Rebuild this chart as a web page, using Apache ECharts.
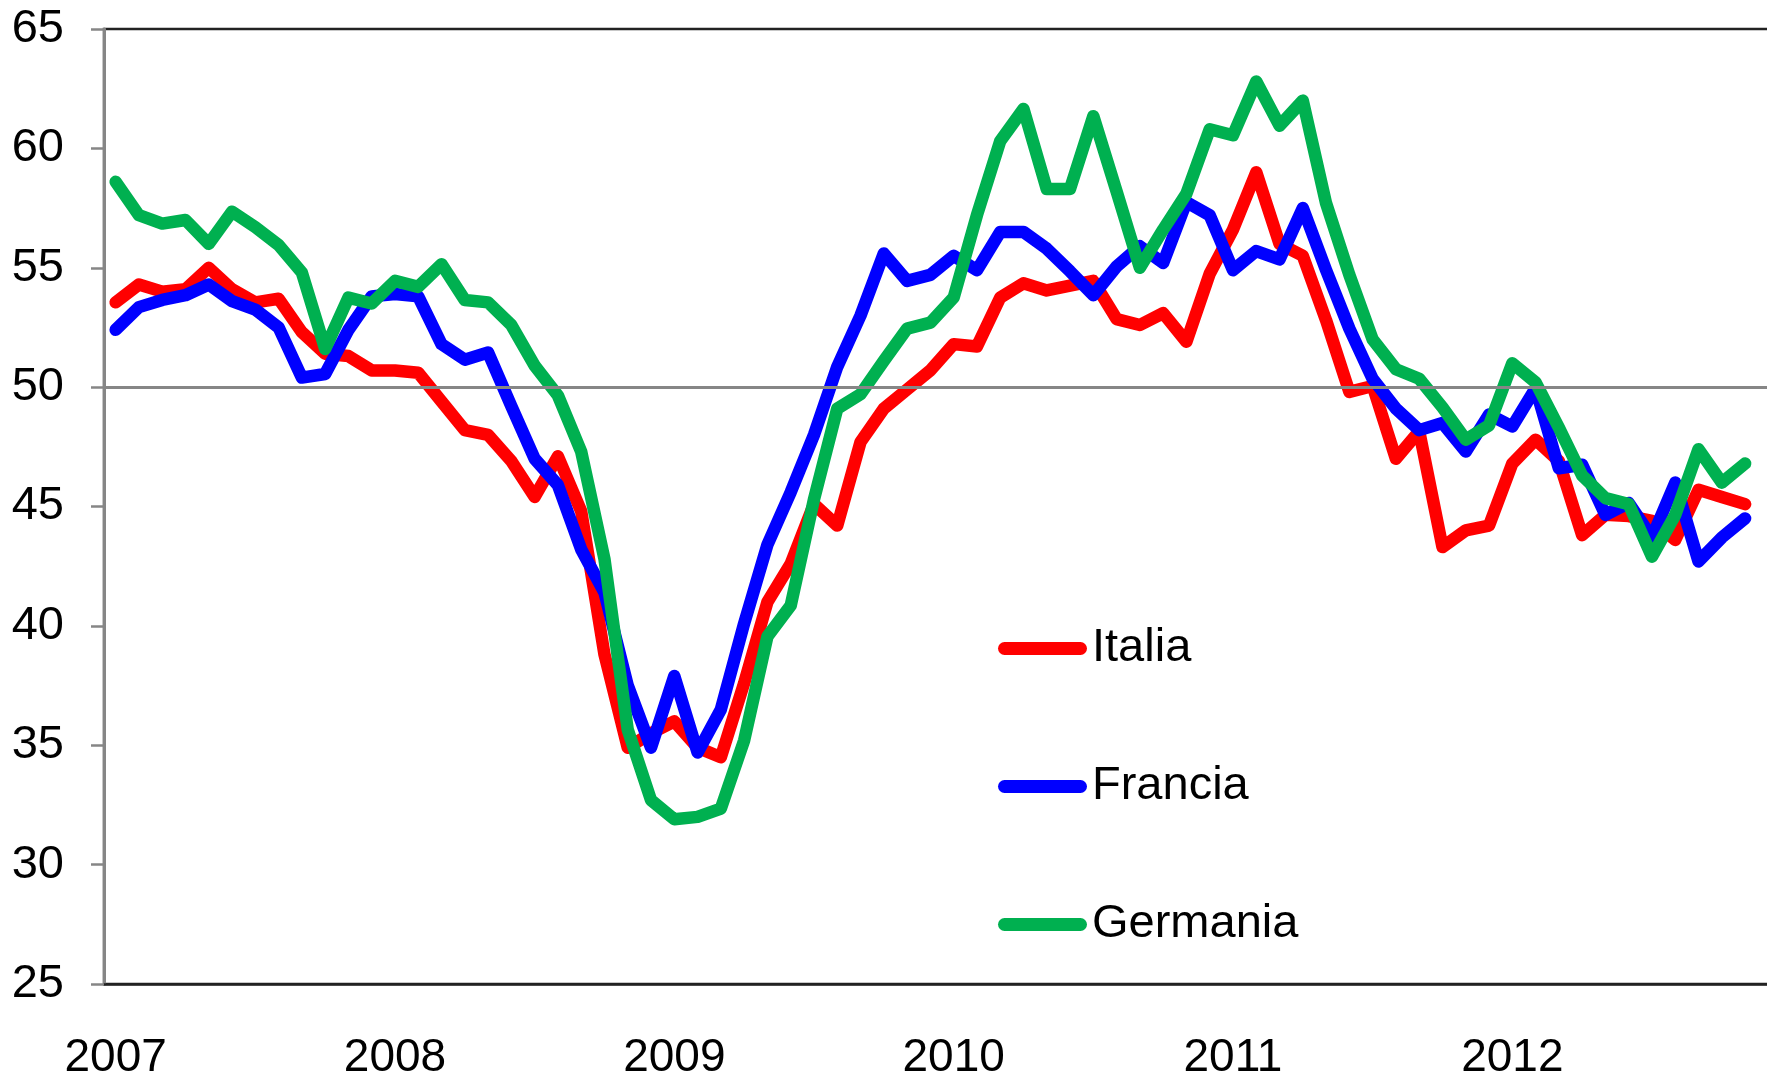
<!DOCTYPE html>
<html>
<head>
<meta charset="utf-8">
<title>Italia, Francia, Germania 2007-2012</title>
<script src="https://cdn.jsdelivr.net/npm/echarts@6/dist/echarts.min.js"></script>
<style>
    html, body { margin: 0; padding: 0; background: #fff; }
    #chart { width: 1767px; height: 1076px; }
</style>
</head>
<body>
<div id="chart"></div>
<script>
// anni sull'asse x (un'etichetta ogni gennaio)
var years = ['2007', '2008', '2009', '2010', '2011', '2012'];

// valori mensili, gen 2007 - nov 2012
var italia = [
    53.55, 54.3, 54.0, 54.1, 55.0, 54.1, 53.55, 53.7, 52.3, 51.4, 51.3, 50.7,
    50.7, 50.6, 49.4, 48.2, 48.0, 46.9, 45.4, 47.1, 44.8, 38.8, 34.9, 35.5,
    36.0, 34.9, 34.5, 37.6, 41.0, 42.6, 45.1, 44.2, 47.7, 49.1, 49.9, 50.7,
    51.8, 51.7, 53.75, 54.35, 54.05, 54.25, 54.45, 52.85, 52.6, 53.1, 51.9, 54.75,
    56.6, 59.0, 56.0, 55.5, 52.8, 49.8, 50.05, 47.0, 48.15, 43.3, 44.0, 44.2,
    46.8, 47.8, 46.9, 43.8, 44.65, 44.6, 44.4, 43.6, 45.7, 45.4, 45.1
];
var francia = [
    52.4, 53.35, 53.65, 53.85, 54.3, 53.6, 53.25, 52.5, 50.4, 50.55, 52.4, 53.8,
    53.9, 53.8, 51.8, 51.15, 51.45, 49.2, 47.0, 45.9, 43.2, 41.4, 37.5, 34.9,
    37.9, 34.7, 36.5, 40.1, 43.4, 45.6, 48.0, 50.85, 53.0, 55.6, 54.45, 54.7,
    55.5, 54.9, 56.5, 56.5, 55.8, 54.85, 53.85, 55.05, 55.9, 55.2, 57.75, 57.2,
    54.9, 55.7, 55.35, 57.5, 54.9, 52.45, 50.35, 49.1, 48.2, 48.5, 47.3, 48.85,
    48.35, 49.95, 46.6, 46.75, 44.65, 45.15, 43.7, 46.0, 42.7, 43.7, 44.5
];
var germania = [
    58.6, 57.2, 56.85, 57.0, 56.0, 57.35, 56.7, 55.95, 54.8, 51.6, 53.75, 53.5,
    54.45, 54.2, 55.15, 53.65, 53.55, 52.6, 50.9, 49.65, 47.3, 42.8, 35.65, 32.7,
    31.9, 32.0, 32.35, 35.2, 39.55, 40.85, 45.3, 49.1, 49.7, 51.1, 52.45, 52.7,
    53.75, 57.2, 60.3, 61.65, 58.3, 58.3, 61.35, 58.2, 55.0, 56.6, 58.1, 60.8,
    60.55, 62.8, 60.95, 62.0, 57.7, 54.7, 52.0, 50.75, 50.35, 49.15, 47.8, 48.4,
    51.0, 50.2, 48.3, 46.3, 45.35, 45.1, 42.9, 44.65, 47.4, 46.0, 46.8
];

var seriesNames = ['Italia', 'Francia', 'Germania'];
var seriesColors = ['#ff0000', '#0000ff', '#00b050'];

// mesi come categorie
var months = [];
years.forEach(function (y) {
    for (var m = 1; m <= 12; m++) {
        months.push(y + '-' + (m < 10 ? '0' + m : m));
    }
});

var font = '"Liberation Sans", Arial, sans-serif';

function lineSeries(name, data, color, z) {
    return {
        name: name,
        type: 'line',
        data: data,
        symbol: 'none',
        z: z,
        lineStyle: { color: color, width: 12.5, cap: 'round', join: 'round' },
        itemStyle: { color: color },
        emphasis: { disabled: true }
    };
}

var chart = echarts.init(document.getElementById('chart'));
chart.setOption({
    animation: false,
    grid: {
        left: 104, right: -13, top: 29, bottom: 92,
        outerBoundsMode: 'none',
        containLabel: false,
        show: true, borderColor: '#222', borderWidth: 2.5
    },
    legend: {
        data: seriesNames,
        orient: 'vertical',
        left: 998,
        top: 625,
        padding: 0,
        itemWidth: 89,
        itemHeight: 13,
        itemGap: 91,
        icon: 'path://M6.5,0H82.5A6.5,6.5,0,0,1,82.5,13H6.5A6.5,6.5,0,0,1,6.5,0Z',
        itemStyle: { borderWidth: 0 },
        selectedMode: false,
        textStyle: { fontSize: 47, lineHeight: 46, color: '#000', fontFamily: font }
    },
    xAxis: {
        type: 'category',
        data: months,
        boundaryGap: true,
        axisLine: { lineStyle: { color: '#222', width: 2.5 } },
        axisTick: { show: false },
        splitLine: { show: false },
        axisLabel: {
            interval: function (i) { return i % 12 === 0; },
            formatter: function (v) { return v.slice(0, 4); },
            fontSize: 46,
            color: '#000',
            fontFamily: font,
            margin: 51
        }
    },
    yAxis: {
        type: 'value',
        min: 25,
        max: 65,
        interval: 5,
        axisLine: { show: true, lineStyle: { color: '#868686', width: 3 } },
        axisTick: { show: true, length: 13, lineStyle: { color: '#868686', width: 2.5 } },
        splitLine: { show: false },
        axisLabel: { fontSize: 47, color: '#000', fontFamily: font, margin: 40 }
    },
    series: [
        {
            // linea dei 50
            type: 'line',
            data: [],
            z: 1,
            silent: true,
            markLine: {
                silent: true,
                symbol: 'none',
                label: { show: false },
                lineStyle: { color: '#868686', width: 3, type: 'solid' },
                data: [{ yAxis: 50 }]
            }
        },
        lineSeries(seriesNames[0], italia, seriesColors[0], 2),
        lineSeries(seriesNames[1], francia, seriesColors[1], 3),
        lineSeries(seriesNames[2], germania, seriesColors[2], 4)
    ]
});
</script>
</body>
</html>
